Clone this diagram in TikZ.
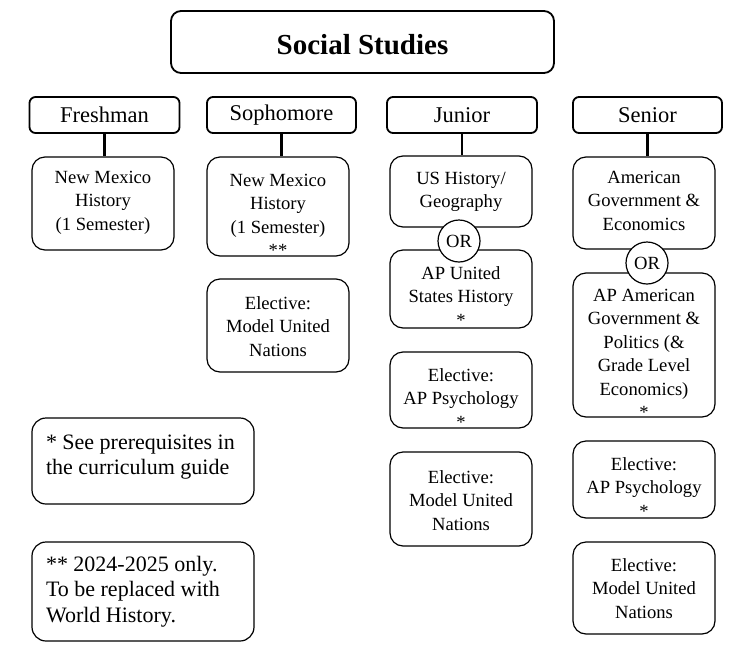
\documentclass[tikz,border=0pt]{standalone}
\usepackage{fontspec}
\setmainfont{Liberation Serif}
\newcommand\crstext[3]{\parbox[c][#1pt][t]{142pt}{\centering\rule{0pt}{#2pt}#3}}
\begin{document}
\begin{tikzpicture}[x=1pt,y=-1pt,
  titlebox/.style={draw, line width=1.8pt, rounded corners=10pt, minimum width=383pt, minimum height=62pt, inner sep=0pt, font=\fontsize{29}{33}\selectfont\bfseries},
  hdrbox/.style={draw, line width=1.8pt, rounded corners=6pt, minimum height=36pt, inner sep=0pt, font=\fontsize{22.5}{25}\selectfont},
  crsbox/.style={draw, line width=1.2pt, rounded corners=13pt, inner sep=0pt, font=\fontsize{18.6}{23.5}\selectfont},
  notebox/.style={draw, line width=1.2pt, rounded corners=14pt, inner sep=0pt, font=\fontsize{22}{25.8}\selectfont},
  orshape/.style={draw, fill=white, line width=1.2pt, circle, minimum size=42pt, inner sep=0pt, font=\fontsize{18.6}{22}\selectfont},
  conn/.style={line width=2.8pt}]
\useasboundingbox (0,0) rectangle (747,670);

\node[titlebox] (title) at (362.5,42) {\raisebox{-3pt}[\height][\depth]{Social Studies}};

\node[hdrbox, minimum width=150pt] (fh) at (104.5,115) {Freshman};
\node[hdrbox, minimum width=149pt] (sh) at (281.5,115) {Sophomore};
\node[hdrbox, minimum width=150pt] (jh) at (462,115) {Junior};
\node[hdrbox, minimum width=149pt] (eh) at (647.5,115) {Senior};

% Freshman
\node[crsbox] (f1) at (103,203.5) {\crstext{93}{26}{New Mexico\\History\\(1 Semester)}};
% Sophomore
\node[crsbox] (s1) at (278,206.5) {\crstext{99}{29}{New Mexico\\History\\(1 Semester)\\{**}}};
\node[crsbox] (s2) at (278,325.5) {\crstext{93}{30}{Elective:\\Model United\\Nations}};
% Junior
\node[crsbox] (j1) at (461,191.5) {\crstext{71}{28}{US History/\\Geography}};
\node[crsbox] (j2) at (461,289) {\crstext{78}{29}{AP United\\States History\\{*}}};
\node[crsbox] (j3) at (461,390) {\crstext{76}{29}{Elective:\\AP Psychology\\{*}}};
\node[crsbox] (j4) at (461,499) {\crstext{94}{31}{Elective:\\Model United\\Nations}};
% Senior
\node[crsbox] (e1) at (644,203) {\crstext{92}{26}{American\\Government \&\\Economics}};
\node[crsbox] (e2) at (644,345) {\crstext{144}{28}{AP American\\Government \&\\Politics (\&\\Grade Level\\Economics)\\{*}}};
\node[crsbox] (e3) at (644,479.5) {\crstext{77}{29}{Elective:\\AP Psychology\\{*}}};
\node[crsbox] (e4) at (644,588) {\crstext{92}{29}{Elective:\\Model United\\Nations}};

\node[orshape] (jor) at (459,241) {OR};
\node[orshape] (eor) at (647,263) {OR};

% notes
\node[notebox] (n1) at (143,461) {\parbox[c][86pt][t]{222pt}{\hspace*{14pt}\rule{0pt}{31pt}* See prerequisites in\\\hspace*{14pt}the curriculum guide}};
\node[notebox] (n2) at (143,591.5) {\parbox[c][99pt][t]{222pt}{\hspace*{14pt}\rule{0pt}{29pt}** 2024-2025 only.\\\hspace*{14pt}To be replaced with\\\hspace*{14pt}World History.}};

% connectors
\draw[conn] (fh.south) -- (fh.south |- f1.north);
\draw[conn] (sh.south) -- (sh.south |- s1.north);
\draw[conn] (jh.south) -- (jh.south |- j1.north);
\draw[conn] (eh.south) -- (eh.south |- e1.north);
\end{tikzpicture}
\end{document}
